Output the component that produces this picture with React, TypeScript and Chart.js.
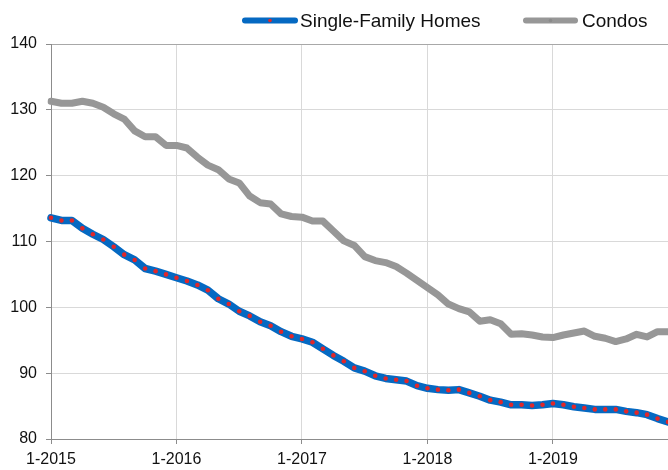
import React, { useEffect, useRef } from "react";
import { Chart, registerables } from "chart.js";

Chart.register(...registerables);

const years = [2015, 2016, 2017, 2018, 2019];
const months: string[] = years.flatMap((y) =>
  Array.from({ length: 12 }, (_, m) => `${m + 1}-${y}`)
);

const singleFamily = [
  113.6, 113.2, 113.2, 112.0, 111.1, 110.3, 109.2, 108.0, 107.2, 105.9, 105.5, 105.0,
  104.5, 104.0, 103.4, 102.6, 101.3, 100.5, 99.4, 98.7, 97.8, 97.2, 96.3, 95.6,
  95.2, 94.7, 93.7, 92.7, 91.8, 90.8, 90.3, 89.6, 89.2, 89.0, 88.8, 88.1,
  87.7, 87.5, 87.4, 87.5, 87.0, 86.5, 85.9, 85.6, 85.2, 85.2, 85.1, 85.2,
  85.4, 85.2, 84.9, 84.7, 84.5, 84.5, 84.5, 84.2, 84.0, 83.7, 83.1, 82.6,
];

const condos = [
  131.3, 131.0, 131.0, 131.3, 131.0, 130.4, 129.4, 128.6, 126.8, 125.9, 125.9, 124.6,
  124.6, 124.2, 122.8, 121.6, 120.9, 119.5, 118.9, 116.9, 115.9, 115.7, 114.2, 113.8,
  113.7, 113.1, 113.1, 111.6, 110.1, 109.4, 107.7, 107.1, 106.8, 106.2, 105.2, 104.1,
  103.0, 101.9, 100.5, 99.8, 99.3, 97.9, 98.1, 97.5, 95.9, 96.0, 95.8, 95.5,
  95.4, 95.8, 96.1, 96.4, 95.6, 95.3, 94.8, 95.2, 95.9, 95.5, 96.3, 96.3,
];

const seriesNames = ["Single-Family Homes", "Condos"];
const yTicks = { min: 80, max: 140, step: 10 };

const BLUE = "#0569c2";
const RED = "#e0282a";
const GRAY = "#979797";
const FONT = "'Liberation Sans', Arial, Helvetica, sans-serif";

const legendPlugin = {
  id: "customLegend",
  afterDraw(chart: any) {
    const ctx = chart.ctx;
    ctx.save();
    const y = 20.5;
    const items = [
      { x0: 245, x1: 295, color: BLUE, dot: RED, text: seriesNames[0], tx: 300 },
      { x0: 526, x1: 575, color: GRAY, dot: "#8a8a8a", text: seriesNames[1], tx: 582 },
    ];
    for (const it of items) {
      ctx.beginPath();
      ctx.lineWidth = 6;
      ctx.lineCap = "round";
      ctx.strokeStyle = it.color;
      ctx.moveTo(it.x0, y);
      ctx.lineTo(it.x1, y);
      ctx.stroke();
      ctx.beginPath();
      ctx.fillStyle = it.dot;
      ctx.arc((it.x0 + it.x1) / 2, y, 1.8, 0, Math.PI * 2);
      ctx.fill();
      ctx.fillStyle = "#111";
      ctx.font = `19px ${FONT}`;
      ctx.textBaseline = "alphabetic";
      ctx.textAlign = "left";
      ctx.fillText(it.text, it.tx, 27);
    }
    ctx.restore();
  },
};

export default function App() {
  const ref = useRef<HTMLCanvasElement | null>(null);
  useEffect(() => {
    if (!ref.current) return;
    const chart = new Chart(ref.current, {
      type: "line",
      data: {
        labels: months,
        datasets: [
          {
            label: seriesNames[0],
            data: singleFamily,
            borderColor: BLUE,
            borderWidth: 7.5,
            pointRadius: 2.3,
            pointBackgroundColor: RED,
            pointBorderWidth: 0,
            borderJoinStyle: "round",
            borderCapStyle: "round",
            tension: 0,
          },
          {
            label: seriesNames[1],
            data: condos,
            borderColor: GRAY,
            borderWidth: 7,
            pointRadius: 0,
            borderJoinStyle: "round",
            borderCapStyle: "round",
            tension: 0,
          },
        ],
      },
      options: {
        responsive: false,
        animation: false,
        layout: { autoPadding: false, padding: { top: 44, right: 0, left: 0, bottom: 0 } },
        plugins: {
          legend: { display: false },
          tooltip: { enabled: false },
        },
        scales: {
          x: {
            type: "category",
            offset: false,
            afterFit: (s: any) => {
              s.height = 31;
              s.paddingRight = 0;
              s.paddingLeft = 0;
            },
            border: { display: true, color: "#8c8c8c", width: 1 },
            grid: {
              color: "#d9d9d9",
              lineWidth: 1,
              tickLength: 5,
              tickColor: "#8c8c8c",
            },
            ticks: {
              autoSkip: false,
              maxRotation: 0,
              padding: 6,
              color: "#111",
              font: { family: FONT, size: 16 },
              callback: (_v: any, i: number) => (i % 12 === 0 ? months[i] : null),
            },
          },
          y: {
            min: yTicks.min,
            max: yTicks.max,
            afterFit: (s: any) => {
              s.width = 51;
            },
            border: { display: true, color: "#8c8c8c", width: 1 },
            grid: {
              color: (c: any) => (c.tick && c.tick.value === yTicks.max ? "#a8a8a8" : "#d9d9d9"),
              lineWidth: 1,
              tickLength: 5,
              tickColor: "#8c8c8c",
            },
            ticks: {
              stepSize: yTicks.step,
              padding: 9,
              color: "#111",
              font: { family: FONT, size: 16 },
            },
          },
        },
      },
      plugins: [legendPlugin],
    } as any);
    return () => chart.destroy();
  }, []);
  return (
    <div style={{ position: "absolute", left: 0, top: 0, width: 668, height: 470, background: "#fff" }}>
      <canvas ref={ref} width={668} height={470} />
    </div>
  );
}
